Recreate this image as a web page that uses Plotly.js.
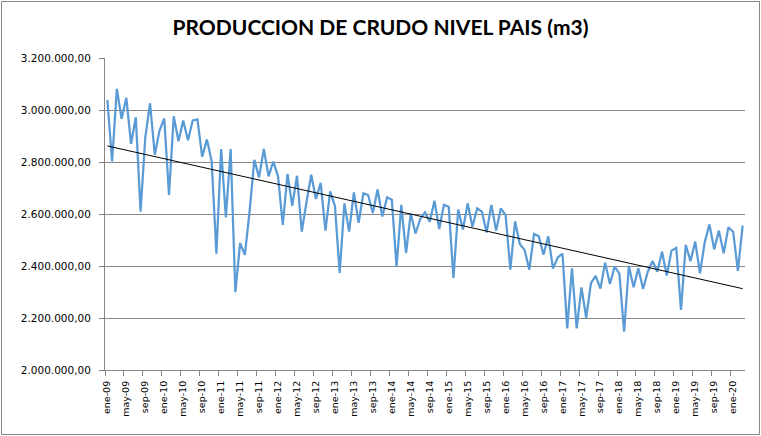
<!DOCTYPE html>
<html>
<head>
<meta charset="utf-8">
<script src="https://cdn.plot.ly/plotly-3.0.1.min.js"></script>
<style>html,body{margin:0;padding:0;background:#fff;}#chart{width:761px;height:436px;}</style>
</head>
<body>
<div id="chart"></div>
<script>
const monthNames = ["ene","feb","mar","abr","may","jun","jul","ago","sep","oct","nov","dic"];
const startYear = 2009;
const production = [
  3039000, 2802000, 3081000, 2966000, 3047000, 2870000, 2972000, 2609000, 2895000, 3026000, 2828000, 2921000,
  2968000, 2673000, 2976000, 2880000, 2960000, 2884000, 2960000, 2964000, 2820000, 2887000, 2802000, 2447000,
  2850000, 2587000, 2850000, 2299000, 2488000, 2443000, 2610000, 2808000, 2741000, 2850000, 2745000, 2802000,
  2745000, 2558000, 2754000, 2631000, 2747000, 2532000, 2645000, 2751000, 2658000, 2720000, 2536000, 2687000,
  2631000, 2373000, 2641000, 2532000, 2683000, 2566000, 2680000, 2673000, 2604000, 2694000, 2590000, 2664000,
  2655000, 2397000, 2635000, 2450000, 2602000, 2525000, 2581000, 2606000, 2570000, 2651000, 2542000, 2635000,
  2628000, 2354000, 2617000, 2540000, 2641000, 2551000, 2622000, 2609000, 2529000, 2635000, 2536000, 2622000,
  2596000, 2386000, 2572000, 2485000, 2462000, 2386000, 2523000, 2514000, 2443000, 2514000, 2390000, 2433000,
  2448000, 2160000, 2391000, 2160000, 2318000, 2201000, 2334000, 2362000, 2313000, 2413000, 2331000, 2398000,
  2371000, 2147000, 2400000, 2318000, 2391000, 2312000, 2378000, 2419000, 2378000, 2455000, 2363000, 2459000,
  2470000, 2231000, 2481000, 2419000, 2494000, 2372000, 2491000, 2560000, 2464000, 2536000, 2449000, 2549000,
  2532000, 2381000, 2555000
];

const categories = production.map((_, i) => {
  const m = monthNames[i % 12];
  const y = String((startYear + Math.floor(i / 12)) % 100).padStart(2, "0");
  return m + "-" + y;
});
const idx = production.map((_, i) => i);

// Linear trendline (least squares) from the series
const n = production.length;
const mx = idx.reduce((a, b) => a + b, 0) / n;
const my = production.reduce((a, b) => a + b, 0) / n;
let sxy = 0, sxx = 0;
for (let i = 0; i < n; i++) { sxy += (idx[i] - mx) * (production[i] - my); sxx += (idx[i] - mx) ** 2; }
const slope = sxy / sxx, intercept = my - slope * mx;
const trendX = [idx[0], idx[n - 1]];
const trendY = trendX.map(x => intercept + slope * x);

const tickIdx = idx.filter(i => i % 4 === 0);
const tickText = tickIdx.map(i => categories[i]);
const boundaryTicks = [];
for (let i = 0; i < n; i += 4) boundaryTicks.push(i - 0.5);

const grey = "#868686";
const L = 105, R = 16, T = 58, B = 66, W = 761, H = 436;
const pw = W - L - R, ph = H - T - B;

const data = [
  { x: idx, y: production, type: "scatter", mode: "lines", text: categories,
    line: { color: "#5B9BD5", width: 2.25 }, hoverinfo: "text+y" },
  { x: trendX, y: trendY, type: "scatter", mode: "lines",
    line: { color: "#000000", width: 1 }, hoverinfo: "skip" }
];

const layout = {
  width: W, height: H,
  margin: { l: L, r: R, t: T, b: B },
  paper_bgcolor: "#fff", plot_bgcolor: "#fff",
  showlegend: false,
  separators: ",.",
  font: { family: "DejaVu Sans, Verdana, sans-serif", color: "#000" },
  title: { text: "<b>PRODUCCION DE CRUDO NIVEL PAIS (m3)</b>", xref: "container", x: 0.5, xanchor: "center",
           yref: "container", y: 1 - 28 / H, yanchor: "middle",
           font: { family: "Lato, Open Sans, sans-serif", size: 21, color: "#000" } },
  xaxis: {
    range: [-0.5, n - 0.5], tickmode: "array", tickvals: tickIdx, ticktext: tickText,
    tickangle: -90, ticks: "", showgrid: false, zeroline: false,
    showline: true, linecolor: grey, linewidth: 1, ticklabelstandoff: 6,
    tickfont: { size: 9.5, family: "DejaVu Sans, Verdana, sans-serif" },
    minor: { tickmode: "array", tickvals: boundaryTicks, ticks: "outside", ticklen: 5, tickcolor: grey, tickwidth: 1, showgrid: false }
  },
  yaxis: {
    range: [2000000, 3200000], dtick: 200000, tick0: 2000000, tickformat: ",.2f",
    showgrid: true, gridcolor: grey, gridwidth: 1, zeroline: false,
    showline: true, linecolor: grey, linewidth: 1,
    ticks: "outside", ticklen: 5, tickcolor: grey, ticklabelstandoff: 6,
    tickfont: { size: 10.5, family: "DejaVu Sans, Verdana, sans-serif" }
  },
  shapes: [{
    type: "rect", xref: "paper", yref: "paper", layer: "below",
    x0: (1.5 - L) / pw, x1: (W - 1.5 - L) / pw,
    y0: (H - B - (H - 1.5)) / ph, y1: (H - B - 1.5) / ph,
    line: { color: grey, width: 1 }, fillcolor: "rgba(0,0,0,0)"
  }]
};

Plotly.newPlot("chart", data, layout, { displayModeBar: false, staticPlot: true });
</script>
</body>
</html>
